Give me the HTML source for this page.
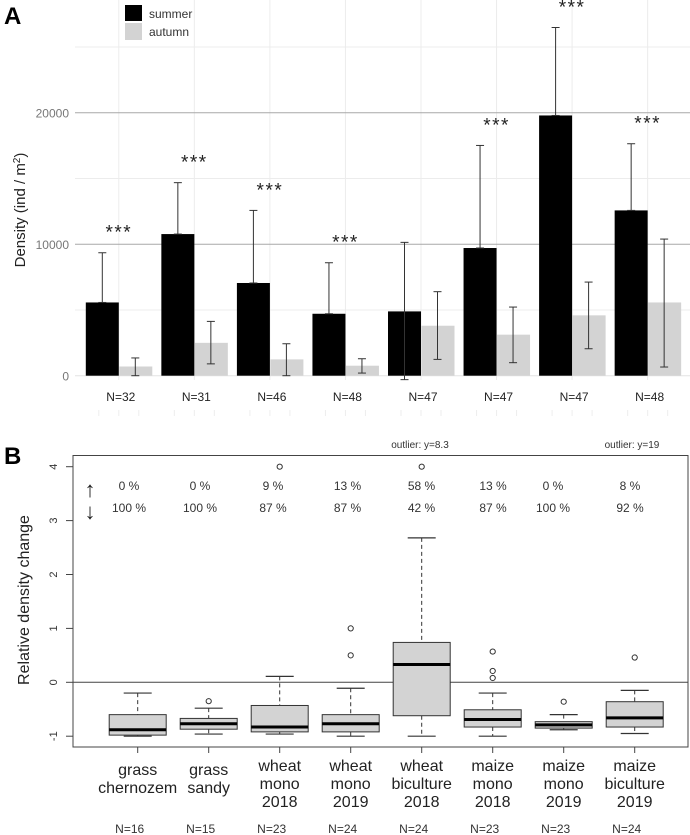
<!DOCTYPE html>
<html><head><meta charset="utf-8"><style>
body{margin:0;background:#fff;}
svg{display:block;font-family:"Liberation Sans",sans-serif;}
</style></head><body>
<svg id="fig" width="690" height="835" viewBox="0 0 690 835">
<text x="4" y="24" font-size="24" font-weight="bold">A</text>
<g id="gA"></g>
<text x="4" y="464" font-size="24" font-weight="bold">B</text>
<g id="gB"></g>
</svg>
<script>
// ---- Panel A data ----
const groupsA = ["N=32","N=31","N=46","N=48","N=47","N=47","N=47","N=48"];
const summerVals = [5570,10770,7050,4710,4890,9710,19790,12570];
const summerErrHi = [9350,14680,12570,8590,10140,17510,26480,17640];
const summerErrLo = [5570,10770,7050,4710,-300,9710,19790,12570];
const autumnVals = [700,2500,1240,760,3800,3120,4590,5570];
const autumnErrHi = [1350,4130,2430,1290,6390,5220,7120,10390];
const autumnErrLo = [0,900,0,200,1240,990,2050,660];
const starsA = [true,true,true,true,false,true,true,true];
const yTicksA = [0,10000,20000];
const yMinorA = [5000,15000,25000];

// ---- Panel B data ----
const catsB = [["grass","chernozem"],["grass","sandy"],["wheat","mono","2018"],["wheat","mono","2019"],["wheat","biculture","2018"],["maize","mono","2018"],["maize","mono","2019"],["maize","biculture","2019"]];
const nB = ["N=16","N=15","N=23","N=24","N=24","N=23","N=23","N=24"];
const whiskHi = [-0.2,-0.48,0.11,-0.11,2.68,-0.2,-0.6,-0.15];
const q3 = [-0.6,-0.67,-0.43,-0.6,0.74,-0.51,-0.73,-0.36];
const med = [-0.88,-0.77,-0.83,-0.77,0.33,-0.69,-0.79,-0.66];
const q1 = [-0.98,-0.87,-0.92,-0.92,-0.62,-0.83,-0.85,-0.83];
const whiskLo = [-1.0,-0.96,-0.96,-1.0,-1.0,-1.0,-0.88,-0.95];
const outliers = [[],[-0.35],[4.0],[1.0,0.5],[4.0],[0.57,0.21,0.08],[-0.36],[0.46]];
const upPct = ["0 %","0 %","9 %","13 %","58 %","13 %","0 %","8 %"];
const downPct = ["100 %","100 %","87 %","87 %","42 %","87 %","100 %","92 %"];
const yTicksB = [-1,0,1,2,3,4];

const NS="http://www.w3.org/2000/svg";
function mk(parent,tag,attrs,txt){const e=document.createElementNS(NS,tag);for(const k in attrs)e.setAttribute(k,attrs[k]);if(txt!==undefined)e.textContent=txt;parent.appendChild(e);return e;}

// ---- Panel A ----
const gA=document.getElementById('gA');
const yA=v=>375.7-v*0.01315;
const cxA=i=>118.8+i*75.55;
const bw=33;
for(let i=0;i<8;i++){const l=mk(gA,'line',{x1:cxA(i),x2:cxA(i),y1:0,y2:380,stroke:'#ececec','stroke-width':1});

}
yMinorA.forEach(v=>{const l=mk(gA,'line',{x1:75,x2:690,y1:yA(v),y2:yA(v),stroke:'#ececec','stroke-width':1});

});
yTicksA.forEach(v=>{const l=mk(gA,'line',{x1:75,x2:690,y1:yA(v),y2:yA(v),stroke:v===0?'#e4e4e4':'#a8a8a8','stroke-width':1});


const t=mk(gA,'text',{x:69,y:yA(v)+5,'text-anchor':'end','font-size':12,fill:'#777'},String(v));

});
const yt=mk(gA,'text',{x:0,y:0,transform:'translate(25,210) rotate(-90)','text-anchor':'middle','font-size':15,fill:'#222'});


yt.innerHTML='Density (ind / m<tspan dy="-5" font-size="10">2</tspan><tspan dy="5">)</tspan>';
function errBar(g,x,lo,hi){
  mk(g,'line',{x1:x,x2:x,y1:yA(lo),y2:yA(hi),stroke:'#333','stroke-width':1});
  mk(g,'line',{x1:x-4,x2:x+4,y1:yA(lo),y2:yA(lo),stroke:'#333','stroke-width':1});
  mk(g,'line',{x1:x-4,x2:x+4,y1:yA(hi),y2:yA(hi),stroke:'#333','stroke-width':1});
}
for(let i=0;i<8;i++){
  const c=cxA(i);
  const b1=mk(gA,'rect',{x:c-bw,y:yA(summerVals[i]),width:bw,height:yA(0)-yA(summerVals[i]),fill:'#000'});
  
  
  const b2=mk(gA,'rect',{x:c+0.5,y:yA(autumnVals[i]),width:bw,height:yA(0)-yA(autumnVals[i]),fill:'#d3d3d3'});
  
  
  errBar(gA,c-bw/2,summerErrLo[i],summerErrHi[i]);
  errBar(gA,c+bw/2,autumnErrLo[i],autumnErrHi[i]);
  if(starsA[i]){const s=mk(gA,'text',{x:c,y:yA(summerErrHi[i])-14,'text-anchor':'middle','font-size':19,fill:'#222','letter-spacing':'1.5'},'***');
  
  }
  const n=mk(gA,'text',{x:c+2,y:401,'text-anchor':'middle','font-size':12,fill:'#222'},groupsA[i]);
  
  
  for(const dx of [-20,0,20]){mk(gA,'line',{x1:c+dx,x2:c+dx,y1:410,y2:416,stroke:'#eee'});}
}
const lg1=mk(gA,'rect',{x:125,y:5,width:17,height:16,fill:'#000'});


const lg2=mk(gA,'rect',{x:125,y:23,width:17,height:17,fill:'#d3d3d3'});


const lt1=mk(gA,'text',{x:149,y:18,'font-size':12,fill:'#333'},'summer');


const lt2=mk(gA,'text',{x:149,y:36,'font-size':12,fill:'#333'},'autumn');



// ---- Panel B ----
const gB=document.getElementById('gB');
const yB=v=>682.3-v*53.9;
const cxB=i=>137.7+i*71.0;
const fx1=73,fx2=688,fy1=455.5,fy2=747;
const fr=mk(gB,'rect',{x:fx1,y:fy1,width:fx2-fx1,height:fy2-fy1,fill:'none',stroke:'#444','stroke-width':1});


yTicksB.forEach(v=>{mk(gB,'line',{x1:66,x2:fx1,y1:yB(v),y2:yB(v),stroke:'#444'});
const t=mk(gB,'text',{x:0,y:0,transform:`translate(57,${yB(v)}) rotate(-90)`,'text-anchor':'middle','font-size':11,fill:'#333'},String(v));

});
const ytb=mk(gB,'text',{x:0,y:0,transform:'translate(29,600) rotate(-90)','text-anchor':'middle','font-size':16,fill:'#222'},'Relative density change');


const zl=mk(gB,'line',{x1:fx1,x2:fx2,y1:yB(0),y2:yB(0),stroke:'#444','stroke-width':1});


const bwB=57,cap=14;
for(let i=0;i<8;i++){
  const c=cxB(i);
  const g=mk(gB,'g',{});
  
  
  mk(g,'line',{x1:c,x2:c,y1:yB(whiskHi[i]),y2:yB(q3[i]),stroke:'#333','stroke-dasharray':'4,3'});
  mk(g,'line',{x1:c,x2:c,y1:yB(q1[i]),y2:yB(whiskLo[i]),stroke:'#333','stroke-dasharray':'4,3'});
  mk(g,'line',{x1:c-cap,x2:c+cap,y1:yB(whiskHi[i]),y2:yB(whiskHi[i]),stroke:'#333','stroke-width':1.2});
  mk(g,'line',{x1:c-cap,x2:c+cap,y1:yB(whiskLo[i]),y2:yB(whiskLo[i]),stroke:'#333','stroke-width':1.2});
  mk(g,'rect',{x:c-bwB/2,y:yB(q3[i]),width:bwB,height:yB(q1[i])-yB(q3[i]),fill:'#d3d3d3',stroke:'#333','stroke-width':1});
  mk(g,'line',{x1:c-bwB/2,x2:c+bwB/2,y1:yB(med[i]),y2:yB(med[i]),stroke:'#000','stroke-width':3});
  outliers[i].forEach(o=>{const p=mk(gB,'circle',{cx:c,cy:yB(o),r:2.6,fill:'none',stroke:'#333','stroke-width':1});
  
  });
  mk(gB,'line',{x1:c,x2:c,y1:fy2,y2:fy2+6,stroke:'#444'});
  const lines=catsB[i];
  const start=lines.length===3?771:775;
  lines.forEach((s,k)=>{const t=mk(gB,'text',{x:c,y:start+k*18,'text-anchor':'middle','font-size':16,fill:'#222'},s);
  
  });
  const n=mk(gB,'text',{x:c-8,y:833,'text-anchor':'middle','font-size':12,fill:'#333'},nB[i]);
  
  
}
const pctX=[129,200,273,347.5,421.5,493,553,630];
for(let i=0;i<8;i++){
  const u=mk(gB,'text',{x:pctX[i],y:490,'text-anchor':'middle','font-size':12,fill:'#333'},upPct[i]);
  
  
  const d=mk(gB,'text',{x:pctX[i],y:512,'text-anchor':'middle','font-size':12,fill:'#333'},downPct[i]);
  
  
}
const au=mk(gB,'text',{x:90,y:497,'text-anchor':'middle','font-size':22,fill:'#222'},'↑');


const ad=mk(gB,'text',{x:90,y:519,'text-anchor':'middle','font-size':22,fill:'#222'},'↓');


const o1=mk(gB,'text',{x:420,y:448,'text-anchor':'middle','font-size':10,fill:'#333'},'outlier: y=8.3');


const o2=mk(gB,'text',{x:632,y:448,'text-anchor':'middle','font-size':10,fill:'#333'},'outlier: y=19');


</script>
</body></html>
